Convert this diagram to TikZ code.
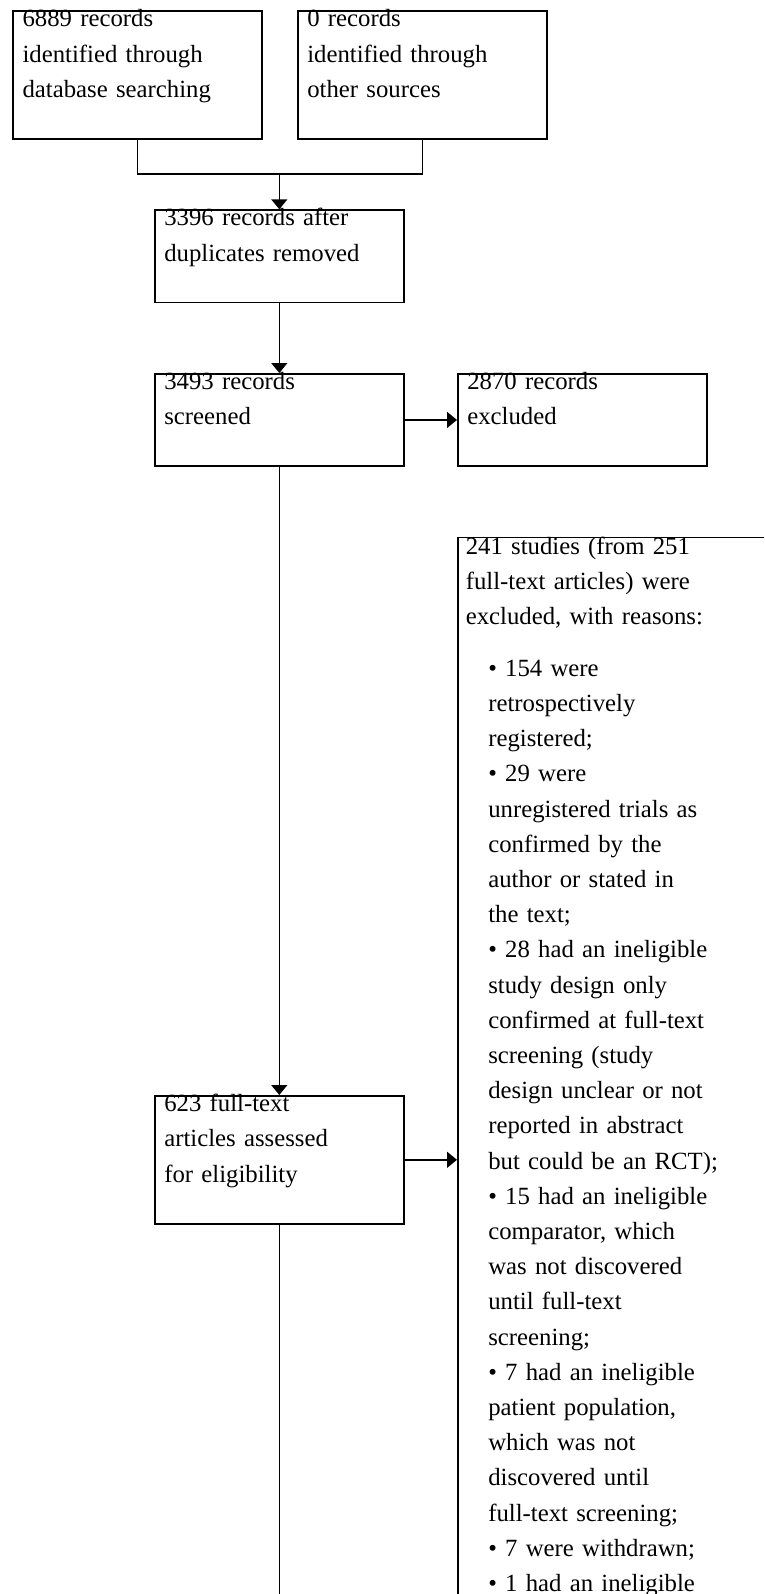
\documentclass[tikz,border=0pt]{standalone}
\usepackage{fontspec}
\setmainfont{Liberation Serif}
\usetikzlibrary{arrows.meta}
\begin{document}
\begin{tikzpicture}[x=1pt,y=-1pt,
  box/.style={draw, line width=1.6pt, rectangle, anchor=north west,
    inner xsep=9.5pt, inner ysep=0pt, text width=230pt, align=left,
    font=\fontsize{24.75}{35.2}\selectfont, text height=15.8pt},
  conn/.style={line width=1.6pt},
  arr/.style={conn, -{Triangle[length=10pt,width=16pt]}}]
\useasboundingbox (0,0) rectangle (764,1594);
\clip (0,0) rectangle (764,1594);

\node[box, text depth=111.9pt] (db) at (12.3,10.3)
  {6889 records\\identified through\\database searching};
\node[box, text depth=111.9pt] (other) at (297,10.3)
  {0 records\\identified through\\other sources};
\node[box, text depth=76.7pt] (dup) at (154,209.3)
  {3396 records after\\duplicates removed};
\node[box, text depth=76.5pt] (scr) at (154,373)
  {3493 records\\screened};
\node[box, text depth=76.5pt] (exc) at (457,373)
  {2870 records\\excluded};
\node[box, text depth=112.2pt] (full) at (154,1095)
  {623 full-text\\articles assessed\\for eligibility};
\node[box, inner xsep=8pt, text width=330pt, text height=16.6pt, text depth=1200pt] (big) at (457,536.7)
  {241 studies (from 251\\full-text articles) were\\excluded, with reasons:\par
   \vspace{16.6pt}%
   \hspace*{22.5pt}• 154 were\\
   \hspace*{22.5pt}retrospectively\\
   \hspace*{22.5pt}registered;\\
   \hspace*{22.5pt}• 29 were\\
   \hspace*{22.5pt}unregistered trials as\\
   \hspace*{22.5pt}confirmed by the\\
   \hspace*{22.5pt}author or stated in\\
   \hspace*{22.5pt}the text;\\
   \hspace*{22.5pt}• 28 had an ineligible\\
   \hspace*{22.5pt}study design only\\
   \hspace*{22.5pt}confirmed at full-text\\
   \hspace*{22.5pt}screening (study\\
   \hspace*{22.5pt}design unclear or not\\
   \hspace*{22.5pt}reported in abstract\\
   \hspace*{22.5pt}but could be an RCT);\\
   \hspace*{22.5pt}• 15 had an ineligible\\
   \hspace*{22.5pt}comparator, which\\
   \hspace*{22.5pt}was not discovered\\
   \hspace*{22.5pt}until full-text\\
   \hspace*{22.5pt}screening;\\
   \hspace*{22.5pt}• 7 had an ineligible\\
   \hspace*{22.5pt}patient population,\\
   \hspace*{22.5pt}which was not\\
   \hspace*{22.5pt}discovered until\\
   \hspace*{22.5pt}full-text screening;\\
   \hspace*{22.5pt}• 7 were withdrawn;\\
   \hspace*{22.5pt}• 1 had an ineligible};

\path (dup.north) ++(0,-35.3) coordinate (j);
\draw[conn] (db.south) |- (j);
\draw[conn] (other.south) |- (j);
\draw[arr] (j) -- (dup.north);
\draw[arr] (dup.south) -- (scr.north);
\draw[arr] (scr.east) -- (exc.west);
\draw[arr] (scr.south) -- (full.north);
\draw[arr] (full.east) -- (full.east -| big.west);
\path (full.south) ++(0,500) coordinate (bot);
\draw[conn] (full.south) -- (bot);
\end{tikzpicture}
\end{document}
